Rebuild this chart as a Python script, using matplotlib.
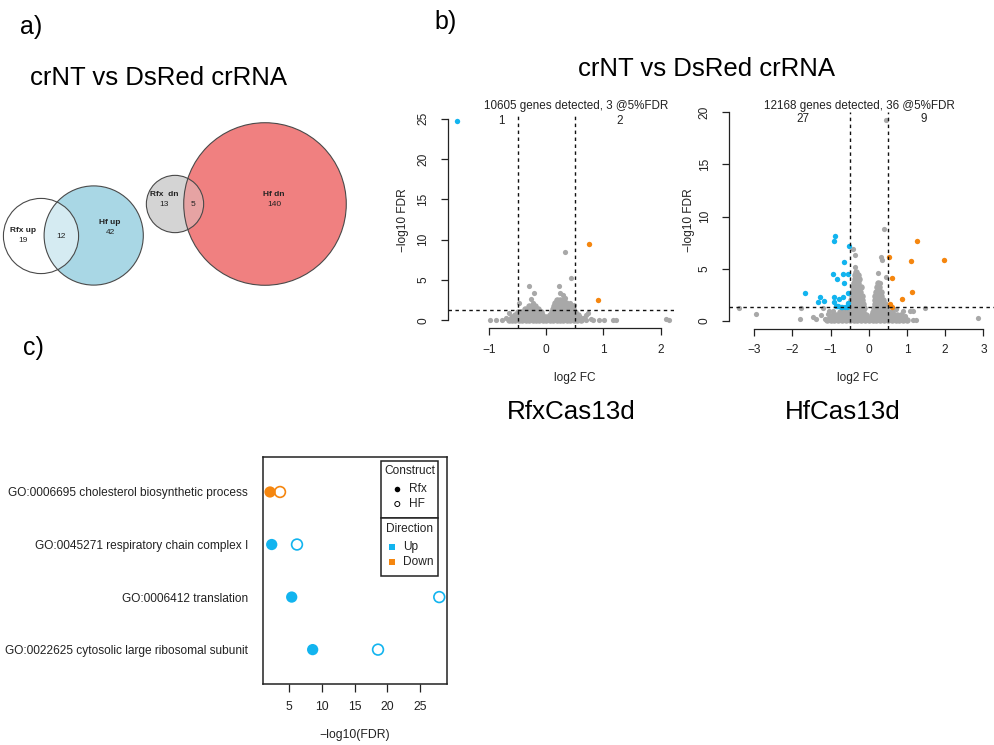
import matplotlib
matplotlib.use("Agg")
import matplotlib.pyplot as plt
from matplotlib.patches import Circle, Rectangle
import numpy as np

plt.rcParams['font.family'] = ['Liberation Sans', 'DejaVu Sans']

W, H = 994, 745
fig = plt.figure(figsize=(W / 100, H / 100), dpi=100)

# ---------------- data ----------------
# a) Venn counts
up_rfx_only, up_both, up_hf_only = 19, 12, 42
dn_rfx_only, dn_both, dn_hf_only = 13, 5, 140

# b) volcano RfxCas13d
rfx_genes = 10605
rfx_left_x = [-1.57]
rfx_left_y = [24.7]
rfx_right_x = [0.75, 0.91]
rfx_right_y = [9.45, 2.55]
rfx_cloud_levels = [0.05, 0.35, 0.7, 1.05, 1.4, 1.75, 2.1, 2.5]
rfx_cloud_x = [
    [-0.66, -0.60, -0.54, -0.48, -0.42, -0.36, -0.30, -0.24, -0.18, -0.12, -0.06, 0.00,
     0.06, 0.12, 0.18, 0.24, 0.30, 0.36, 0.42, 0.48, 0.54, 0.60],
    [-0.60, -0.54, -0.48, -0.42, -0.36, -0.30, -0.24, -0.18, -0.12, -0.06, 0.00, 0.05,
     0.11, 0.17, 0.23, 0.29, 0.35, 0.41, 0.47, 0.53, 0.57],
    [-0.55, -0.49, -0.43, -0.37, -0.31, -0.25, -0.19, -0.13, -0.07, 0.07, 0.13, 0.19,
     0.25, 0.31, 0.37, 0.43, 0.49, 0.55],
    [-0.50, -0.44, -0.38, -0.32, -0.26, -0.20, -0.14, -0.10, 0.10, 0.15, 0.21, 0.27,
     0.33, 0.39, 0.45, 0.51],
    [-0.37, -0.31, -0.25, -0.19, -0.14, 0.12, 0.18, 0.24, 0.30, 0.36, 0.42, 0.47],
    [-0.30, -0.24, -0.19, 0.14, 0.20, 0.26, 0.32, 0.38, 0.43],
    [0.16, 0.22, 0.28, 0.34],
    [0.19, 0.24, 0.29],
]
rfx_other_x = [-0.30, -0.21, -0.26, -0.23, 0.22, 0.43, 0.24, 0.29, 0.33, 0.19, 0.41, 0.49,
               0.33, -0.47, -0.65, -0.98, -0.88, -0.77, -0.71, 0.73, 0.69, 0.81, 0.93,
               1.01, 1.16, 1.22, 2.10, 2.15, 0.69, 0.79, 0.64]
rfx_other_y = [4.3, 3.35, 2.7, 2.2, 4.2, 5.3, 3.4, 3.1, 2.8, 2.5, 2.1, 1.9,
               8.5, 2.1, 0.94, 0.02, 0.02, 0.02, 0.25, 0.87, 0.04, 0.04, 0.04,
               0.04, 0.03, 0.0, 0.12, 0.03, 0.65, 0.16, 0.3]

# b) volcano HfCas13d
hf_genes = 12168
hf_left_x = [-0.88, -0.91, -0.52, -0.65, -0.95, -0.67, -0.54, -0.82, -0.65, -1.68, -0.54,
             -1.28, -0.91, -0.67, -1.32, -1.16, -0.91, -0.77, -0.54, -0.86, -0.80, -0.74,
             -0.62, -0.54, -0.58, -0.70, -0.83]
hf_left_y = [8.16, 7.65, 7.2, 5.66, 4.48, 4.48, 4.48, 4.03, 3.59, 2.63, 2.69,
             2.3, 2.24, 2.24, 1.82, 1.92, 1.82, 2.05, 1.73, 1.41, 1.41, 1.34,
             1.34, 1.41, 1.33, 1.36, 1.45]
hf_right_x = [1.27, 0.53, 1.10, 1.98, 0.61, 1.14, 0.86, 0.55, 0.62]
hf_right_y = [7.68, 6.14, 5.76, 5.8, 4.13, 2.75, 2.11, 1.63, 1.34]
hf_cloud_levels = [0.05, 0.3, 0.55, 0.8, 1.2, 1.6, 2.0, 2.4, 2.8, 3.2, 3.6, 4.0, 4.4, 4.7]
hf_cloud_x = [
    [-1.10, -1.00, -0.90, -0.80, -0.70, -0.60, -0.50, -0.40, -0.30, -0.20, -0.10, 0.00,
     0.10, 0.20, 0.30, 0.40, 0.50, 0.60, 0.70, 0.80, 0.90, 1.00],
    [-1.02, -0.92, -0.82, -0.72, -0.62, -0.52, -0.42, -0.32, -0.22, -0.12, -0.05, 0.05,
     0.13, 0.22, 0.32, 0.42, 0.52, 0.62, 0.72, 0.82, 0.92],
    [-0.95, -0.85, -0.75, -0.65, -0.55, -0.45, -0.35, -0.25, -0.15, -0.08, 0.08, 0.15,
     0.25, 0.35, 0.45, 0.55, 0.65, 0.75, 0.85],
    [-0.75, -0.65, -0.55, -0.46, -0.38, -0.30, -0.22, -0.14, 0.12, 0.20, 0.28, 0.36,
     0.44, 0.53, 0.62],
    [-0.60, -0.52, -0.44, -0.36, -0.28, -0.20, -0.13, 0.13, 0.21, 0.29, 0.37, 0.45],
    [-0.50, -0.43, -0.36, -0.29, -0.22, -0.15, 0.15, 0.22, 0.29, 0.36, 0.43],
    [-0.46, -0.39, -0.32, -0.25, -0.18, 0.16, 0.23, 0.30, 0.37],
    [-0.44, -0.37, -0.30, -0.23, -0.17, 0.17, 0.24, 0.31],
    [-0.43, -0.36, -0.29, -0.22, 0.18, 0.25, 0.32],
    [-0.41, -0.34, -0.27, -0.21, 0.21, 0.28],
    [-0.39, -0.33, -0.27, 0.23],
    [-0.37, -0.31, -0.26],
    [-0.35, -0.29],
    [-0.33],
]
hf_other_x = [0.44, 0.40, -0.42, -0.36, -0.36, 0.31, 0.34, 0.25, 0.45, 0.30, -3.39, -2.96,
              -1.78, -1.80, -1.47, -1.38, -1.15, -1.19, -1.05, 0.89, 1.08, 1.15, 1.16,
              1.23, 1.47, 2.87, 0.95, -1.25, -0.95, 0.70, -1.06]
hf_other_y = [19.3, 8.77, 6.85, 6.3, 5.18, 6.14, 5.8, 4.6, 4.16, 3.6, 1.19, 0.64,
              1.25, 0.16, 0.33, 0.16, 0.13, 1.19, 0.9, 0.96, 0.96, 0.93, 0.10,
              0.07, 1.25, 0.26, 0.45, 0.5, 0.95, 1.1, 0.61]

fc_cut = 0.5
fdr_cut = 0.05

# c) GO enrichment
go_terms = ["GO:0022625 cytosolic large ribosomal subunit",
            "GO:0006412 translation",
            "GO:0045271 respiratory chain complex I",
            "GO:0006695 cholesterol biosynthetic process"]
go_direction = ["Up", "Up", "Up", "Down"]
go_rfx = [8.57, 5.36, 2.30, 2.04]
go_hf = [18.58, 27.96, 6.17, 3.57]

# ---------------- styles ----------------
BLUE = '#12b4ef'
ORANGE = '#f5860f'
GREY = '#a8a8a8'
dir_color = {"Up": BLUE, "Down": ORANGE}


def px_axes(x0, y0, x1, y1):
    return fig.add_axes([x0 / W, 1 - y1 / H, (x1 - x0) / W, (y1 - y0) / H])


def ftext(x, y, s, **kw):
    fig.text(x / W, 1 - y / H, s, **kw)


def volcano(ax, xlim, ylim, xticks, yticks, levels, rows, ox, oy, lx, ly, rx, ry):
    cx = [x for row in rows for x in row]
    cy = [lv for lv, row in zip(levels, rows) for _ in row]
    ax.scatter(cx, cy, s=22, c=GREY, linewidths=0, zorder=2)
    ax.scatter(ox, oy, s=14, c=GREY, linewidths=0, zorder=2)
    ax.scatter(lx, ly, s=15, c=BLUE, linewidths=0, zorder=3)
    ax.scatter(rx, ry, s=15, c=ORANGE, linewidths=0, zorder=3)
    for v in (-fc_cut, fc_cut):
        ax.axvline(v, color='#111111', lw=1.0, ls=(0, (2.5, 2.5)), zorder=4)
    ax.axhline(-np.log10(fdr_cut), color='#111111', lw=1.0, ls=(0, (2.5, 2.5)), zorder=4)
    ax.set_xlim(*xlim)
    ax.set_ylim(*ylim)
    ax.set_xticks(xticks)
    ax.set_yticks(yticks)
    for s in ('top', 'right'):
        ax.spines[s].set_visible(False)
    ax.spines['left'].set_bounds(yticks[0], yticks[-1])
    ax.spines['bottom'].set_bounds(xticks[0], xticks[-1])
    for s in ('left', 'bottom'):
        ax.spines[s].set_linewidth(0.9)
        ax.spines[s].set_color('#222222')
    ax.patch.set_visible(False)
    ax.tick_params(axis='both', direction='out', length=5, width=0.9, color='#222222',
                   labelsize=8.6, labelcolor='#222222')
    ax.tick_params(axis='x', pad=6)
    ax.tick_params(axis='y', pad=8.5, labelrotation=90)
    for lab in ax.get_yticklabels():
        lab.set_va('center')


# ---------------- panel labels & titles ----------------
ftext(31, 27, "a)", fontsize=18, ha='center', va='center')
ftext(446, 22, "b)", fontsize=18, ha='center', va='center')
ftext(33, 348, "c)", fontsize=18, ha='center', va='center')
ftext(159, 78, "crNT vs DsRed crRNA", fontsize=18.5, ha='center', va='center')
ftext(707, 69, "crNT vs DsRed crRNA", fontsize=18.5, ha='center', va='center')
ftext(571, 412, "RfxCas13d", fontsize=18.7, ha='center', va='center')
ftext(843, 412, "HfCas13d", fontsize=18.7, ha='center', va='center')

# ---------------- volcano 1 ----------------
ax1 = px_axes(448, 113, 674, 328.3)
volcano(ax1, (-1.719, 2.233), (-0.99, 25.69), [-1, 0, 1, 2], [0, 5, 10, 15, 20, 25],
        rfx_cloud_levels, rfx_cloud_x, rfx_other_x, rfx_other_y,
        rfx_left_x, rfx_left_y, rfx_right_x, rfx_right_y)
n_l, n_r = len(rfx_left_x), len(rfx_right_x)
ftext(576, 106.5, f"{rfx_genes} genes detected, {n_l + n_r} @5%FDR", fontsize=8.4,
      ha='center', va='center', color='#222222')
ftext(501.7, 121.5, str(n_l), fontsize=8.4, ha='center', va='center', color='#222222')
ftext(620, 121.5, str(n_r), fontsize=8.4, ha='center', va='center', color='#222222')
ftext(575, 378, "log2 FC", fontsize=8.6, ha='center', va='center', color='#222222')
ftext(403, 220, "\u2212log10 FDR", fontsize=8.6, ha='center', va='center', rotation=90,
      color='#222222')

# ---------------- volcano 2 ----------------
ax2 = px_axes(729.3, 111.6, 1002, 328.7)
volcano(ax2, (-3.652, 3.487), (-0.768, 20.07), [-3, -2, -1, 0, 1, 2, 3], [0, 5, 10, 15, 20],
        hf_cloud_levels, hf_cloud_x, hf_other_x, hf_other_y,
        hf_left_x, hf_left_y, hf_right_x, hf_right_y)
n_l, n_r = len(hf_left_x), len(hf_right_x)
ftext(859, 105.5, f"{hf_genes} genes detected, {n_l + n_r} @5%FDR", fontsize=8.4,
      ha='center', va='center', color='#222222')
ftext(803, 119.5, str(n_l), fontsize=8.4, ha='center', va='center', color='#222222')
ftext(924, 119.5, str(n_r), fontsize=8.4, ha='center', va='center', color='#222222')
ftext(858, 378, "log2 FC", fontsize=8.6, ha='center', va='center', color='#222222')
ftext(689, 220, "\u2212log10 FDR", fontsize=8.6, ha='center', va='center', rotation=90,
      color='#222222')

# ---------------- panel c dot plot ----------------
ax3 = px_axes(263.3, 457.3, 446.7, 684.3)
ypos = np.arange(1, len(go_terms) + 1)
cols = [dir_color[d] for d in go_direction]
ax3.scatter(go_rfx, ypos, s=66, c=cols, linewidths=0, zorder=3)
ax3.scatter(go_hf, ypos, s=60, facecolors='none', edgecolors=cols, linewidths=1.2, zorder=3)
ax3.set_xlim(1.01, 29.1)
ax3.set_ylim(0.34, 4.66)
ax3.set_xticks([5, 10, 15, 20, 25])
ax3.set_yticks(ypos)
ax3.set_yticklabels(go_terms)
ax3.tick_params(axis='x', direction='out', length=6, width=0.9, labelsize=8.8, pad=6,
                color='#222222', labelcolor='#222222')
ax3.tick_params(axis='y', length=0, labelsize=8.6, pad=11, labelcolor='#222222')
for s in ax3.spines.values():
    s.set_linewidth(1.1)
    s.set_color('#222222')
ftext(355, 735, "\u2212log10(FDR)", fontsize=8.8, ha='center', va='center', color='#222222')

# ---------------- overlay: Venn + legends ----------------
ov = fig.add_axes([0, 0, 1, 1])
ov.set_xlim(0, W)
ov.set_ylim(H, 0)
ov.axis('off')
ov.patch.set_visible(False)
ov.set_zorder(10)

k = 6.75  # px per sqrt(count)
r_up_rfx = k * np.sqrt(up_rfx_only + up_both)
r_up_hf = k * np.sqrt(up_hf_only + up_both)
r_dn_rfx = k * np.sqrt(dn_rfx_only + dn_both)
r_dn_hf = k * np.sqrt(dn_hf_only + dn_both)


def venn_pair(c1, r1, col1, c2, r2, col2, colx):
    p1 = Circle(c1, r1, facecolor=col1, edgecolor='none', zorder=1)
    p2 = Circle(c2, r2, facecolor=col2, edgecolor='none', zorder=1)
    ov.add_patch(p1)
    ov.add_patch(p2)
    px = Circle(c1, r1, facecolor=colx, edgecolor='none', zorder=2)
    ov.add_patch(px)
    px.set_clip_path(p2)
    for c, r in ((c1, r1), (c2, r2)):
        ov.add_patch(Circle(c, r, facecolor='none', edgecolor='#4a4a4a', lw=0.8, zorder=3))


venn_pair((41, 236), r_up_rfx, 'white', (93.7, 235.5), r_up_hf, '#a9d7e5', '#d5ebf2')
venn_pair((175, 204), r_dn_rfx, '#d4d4d4', (265, 204), r_dn_hf, '#f08080', '#e6a3a3')

vk = dict(fontsize=6, ha='center', va='center', color='#222222', zorder=5)
ov.text(23, 231, "Rfx up", fontweight='bold', **vk)
ov.text(23, 240, str(up_rfx_only), **vk)
ov.text(61, 236, str(up_both), **vk)
ov.text(110, 223, "Hf up", fontweight='bold', **vk)
ov.text(110, 232, str(up_hf_only), **vk)
ov.text(164, 195, "Rfx  dn", fontweight='bold', **vk)
ov.text(164, 205, str(dn_rfx_only), **vk)
ov.text(193, 204, str(dn_both), **vk)
ov.text(274, 194.5, "Hf dn", fontweight='bold', **vk)
ov.text(274, 204, str(dn_hf_only), **vk)

# legends for panel c
lk = dict(fontsize=8.6, va='center', color='#222222', zorder=12)
ov.add_patch(Rectangle((381, 461), 57, 57.3, facecolor='white', edgecolor='#222222', lw=1.1, zorder=11))
ov.add_patch(Rectangle((381, 518.3), 57, 57.7, facecolor='white', edgecolor='#222222', lw=1.1, zorder=11))
ov.text(409.5, 471, "Construct", ha='center', **lk)
ov.scatter([397.3], [489.3], s=16, c='black', linewidths=0, zorder=12)
ov.scatter([397.3], [504], s=13, facecolors='none', edgecolors='black', linewidths=0.7, zorder=12)
ov.text(409.3, 489.3, "Rfx", ha='left', **lk)
ov.text(409.3, 504, "HF", ha='left', **lk)
ov.text(409.5, 529, "Direction", ha='center', **lk)
ov.scatter([392], [547.3], s=16, marker='s', c=dir_color["Up"], linewidths=0, zorder=12)
ov.scatter([392], [561.7], s=16, marker='s', c=dir_color["Down"], linewidths=0, zorder=12)
ov.text(402.7, 547.3, "Up", ha='left', **lk)
ov.text(402.7, 561.7, "Down", ha='left', **lk)

fig.savefig("out.png", dpi=100)
